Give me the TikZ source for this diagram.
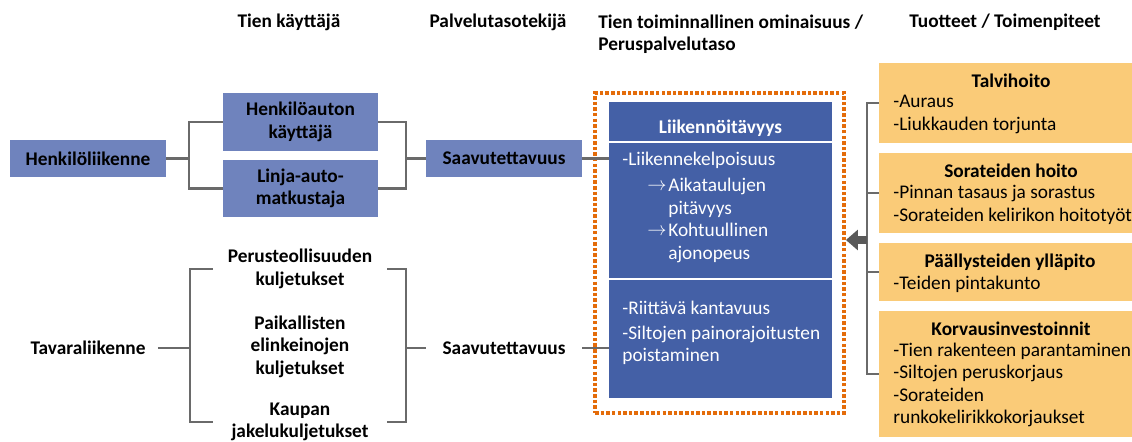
\documentclass[tikz,border=0pt]{standalone}
\usepackage{fontspec}
\setmainfont{Carlito}
\usetikzlibrary{arrows.meta}
\definecolor{liteblue}{HTML}{6F83BD}
\definecolor{darkblue}{HTML}{4460A6}
\definecolor{paleyellow}{HTML}{FACB78}
\definecolor{dotorange}{HTML}{E46C0A}
\definecolor{linegray}{HTML}{6A6A6A}
\definecolor{arrowgray}{HTML}{595959}
\begin{document}
\begin{tikzpicture}[x=0.02cm,y=-0.02cm,
  plaintxt/.style={font=\fontsize{11}{12.8}\selectfont, inner sep=0pt},
  boldtxt/.style={font=\fontsize{11}{12.8}\selectfont\bfseries, inner sep=0pt, align=center},
  itemtxt/.style={plaintxt, align=left, anchor=west},
  whitetxt/.style={plaintxt, text=white, align=left, anchor=west},
  userbox/.style={boldtxt, fill=liteblue, minimum width=3.1cm},
  cargo/.style={boldtxt, minimum width=3.48cm},
  prodbox/.style={fill=paleyellow, minimum width=5.16cm, inner sep=0pt},
  link/.style={draw=linegray, line width=1.2pt},
  bigarrow/.style={draw=arrowgray, line width=0.15cm, -{Triangle[length=0.24cm,width=0.4cm]}}]
\useasboundingbox (0,0) rectangle (1132,442);
% column heads
\node[boldtxt] (h1) at (289,22) {Tien käyttäjä};
\node[boldtxt] (h2) at (498,22) {Palvelutasotekijä};
\node[boldtxt, align=left, anchor=west] (h3) at (598,34) {Tien toiminnallinen ominaisuus /\\Peruspalvelutaso};
\node[boldtxt] (h4) at (1005,22) {Tuotteet / Toimenpiteet};
% henkiloliikenne
\node[userbox, minimum width=3.12cm, minimum height=0.74cm] (hl) at (88,158.5) {Henkilöliikenne};
\node[userbox, minimum height=1.16cm] (hak) at (300.5,122) {Henkilöauton\\käyttäjä};
\node[userbox, minimum height=1.14cm] (lam) at (300.5,188.5) {Linja-auto-\\matkustaja};
\node[userbox, minimum width=3.12cm, minimum height=0.74cm] (sv1) at (504,158.5) {Saavutettavuus};
% tavaraliikenne
\node[boldtxt, inner xsep=0.24cm] (tl) at (88,348) {Tavaraliikenne};
\node[cargo] (pk) at (300,269) {Perusteollisuuden\\kuljetukset};
\node[cargo] (pe) at (300,346.5) {Paikallisten\\elinkeinojen\\kuljetukset};
\node[cargo] (kj) at (300,422) {Kaupan\\jakelukuljetukset};
\node[boldtxt, minimum width=3.12cm, minimum height=0.74cm] (sv2) at (504,348) {Saavutettavuus};
% peruspalvelutaso
\node[draw=dotorange, line width=2.2pt, dash pattern=on 2pt off 1.2pt, minimum width=4.98cm, minimum height=6.4cm, inner sep=0pt] (frame) at (719.5,253) {};
\node[fill=darkblue, minimum width=4.46cm, minimum height=5.92cm, inner sep=0pt] (liik) at (720.5,250) {};
\draw[white, line width=0.6pt] (609,142) -- (832,142);
\draw[white, line width=0.6pt] (609,279) -- (832,279);
\node[boldtxt, text=white] (lt) at (720.5,128) {Liikennöitävyys};
\node[whitetxt] (lk) at (622,160) {-Liikennekelpoisuus};
\node[whitetxt] (a1) at (647,187) {$\rightarrow$};
\node[whitetxt] (ap) at (668,198) {Aikataulujen\\pitävyys};
\node[whitetxt] (a2) at (647,232) {$\rightarrow$};
\node[whitetxt] (ko) at (668,243) {Kohtuullinen\\ajonopeus};
\node[whitetxt] (rk) at (622,308) {-Riittävä kantavuus};
\node[whitetxt] (sp) at (622,345.5) {-Siltojen painorajoitusten\\poistaminen};
% tuotteet
\node[prodbox, minimum height=1.6cm] (tv) at (1008,103) {};
\node[prodbox, minimum height=1.6cm] (sh) at (1008,193) {};
\node[prodbox, minimum height=1.16cm] (py) at (1008,272) {};
\node[prodbox, minimum height=2.52cm] (ki) at (1008,374) {};
\node[boldtxt] (tvt) at (1011,81) {Talvihoito};
\node[itemtxt] (tvi) at (893,114.5) {-Auraus\\-Liukkauden torjunta};
\node[boldtxt] (sht) at (1011,171) {Sorateiden hoito};
\node[itemtxt] (shi) at (893,205) {-Pinnan tasaus ja sorastus\\-Sorateiden kelirikon hoitotyöt};
\node[boldtxt] (pyt) at (1010,262) {Päällysteiden ylläpito};
\node[itemtxt] (pyi) at (893,284) {-Teiden pintakunto};
\node[boldtxt] (kit) at (1011,329) {Korvausinvestoinnit};
\node[itemtxt] (kii) at (893,385) {-Tien rakenteen parantaminen\\-Siltojen peruskorjaus\\-Sorateiden\\runkokelirikkokorjaukset};
% connectors
\coordinate (b1) at (189,158.5);
\coordinate (b2) at (406,158.5);
\coordinate (b3) at (190,348);
\coordinate (b4) at (406,348);
\coordinate (rb) at (867,240);
\draw[link] (hl.east) -- (b1);
\draw[link] (hak.west) -| (b1) |- (lam.west);
\draw[link] (hak.east) -| (b2) |- (lam.east);
\draw[link] (b2) -- (sv1.west);
\draw[link] (sv1.east) -- (sv1.east -| liik.west);
\draw[link] (tl.east) -- (b3);
\draw[link] (pk.west) -| (b3) |- (kj.west);
\draw[link] (pk.east) -| (b4) |- (kj.east);
\draw[link] (b4) -- (sv2.west);
\draw[link] (sv2.east) -- (sv2.east -| liik.west);
\draw[link] (tv.west) -| (rb) |- (ki.west);
\draw[link] (sh.west) -- (sh.west -| rb);
\draw[link] (py.west) -- (py.west -| rb);
\draw[bigarrow] (rb) -- (rb -| frame.east);
\end{tikzpicture}
\end{document}
